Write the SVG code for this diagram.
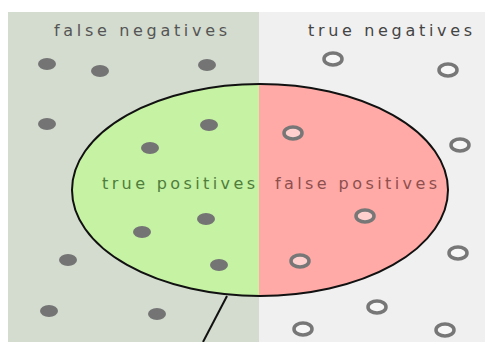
<svg xmlns="http://www.w3.org/2000/svg" width="487" height="342" viewBox="0 0 487 342">
  <style>
    .lbl { font-family: "DejaVu Sans", "Liberation Sans", sans-serif; font-size: 16px; }
    .dot { fill: #747474; }
    .ring { fill: #ffffff; fill-opacity: 0.45; stroke: #777777; stroke-width: 3.5; }
  </style>
  <defs>
    <clipPath id="leftHalf"><rect x="0" y="0" width="259" height="342"/></clipPath>
    <clipPath id="rightHalf"><rect x="259" y="0" width="228" height="342"/></clipPath>
  </defs>
  <rect x="0" y="0" width="487" height="342" fill="#ffffff"/>
  <g id="false-negatives-panel">
    <rect x="8" y="12" width="251" height="330" fill="#d3dccf"/>
  </g>
  <g id="true-negatives-panel">
    <rect x="259" y="12" width="226" height="330" fill="#f0f0f0"/>
  </g>
  <g id="selected-elements">
    <ellipse cx="260" cy="190" rx="188" ry="106" fill="#c5f2a3" clip-path="url(#leftHalf)"/>
    <ellipse cx="260" cy="190" rx="188" ry="106" fill="#ffaaa6" clip-path="url(#rightHalf)"/>
    <ellipse cx="260" cy="190" rx="188" ry="106" fill="none" stroke="#111111" stroke-width="2"/>
  </g>
  <g id="connectors">
    <line x1="227" y1="296" x2="203" y2="342" stroke="#111111" stroke-width="2"/>
  </g>
  <g id="labels">
    <text class="lbl" x="54" y="36" textLength="173" lengthAdjust="spacing" fill="#555555">false negatives</text>
    <text class="lbl" x="308" y="36" textLength="164" lengthAdjust="spacing" fill="#444444">true negatives</text>
    <text class="lbl" x="102" y="189" textLength="153" lengthAdjust="spacing" fill="#4f7d3c">true positives</text>
    <text class="lbl" x="275" y="189" textLength="162" lengthAdjust="spacing" fill="#8e4f4f">false positives</text>
  </g>
  <g id="relevant-elements">
    <ellipse class="dot" cx="47" cy="64" rx="9" ry="6"/>
    <ellipse class="dot" cx="100" cy="71" rx="9" ry="6"/>
    <ellipse class="dot" cx="207" cy="65" rx="9" ry="6"/>
    <ellipse class="dot" cx="47" cy="124" rx="9" ry="6"/>
    <ellipse class="dot" cx="209" cy="125" rx="9" ry="6"/>
    <ellipse class="dot" cx="150" cy="148" rx="9" ry="6"/>
    <ellipse class="dot" cx="206" cy="219" rx="9" ry="6"/>
    <ellipse class="dot" cx="142" cy="232" rx="9" ry="6"/>
    <ellipse class="dot" cx="68" cy="260" rx="9" ry="6"/>
    <ellipse class="dot" cx="219" cy="265" rx="9" ry="6"/>
    <ellipse class="dot" cx="49" cy="311" rx="9" ry="6"/>
    <ellipse class="dot" cx="157" cy="314" rx="9" ry="6"/>
  </g>
  <g id="irrelevant-elements">
    <ellipse class="ring" cx="333" cy="59" rx="9" ry="6"/>
    <ellipse class="ring" cx="448" cy="70" rx="9" ry="6"/>
    <ellipse class="ring" cx="293" cy="133" rx="9" ry="6"/>
    <ellipse class="ring" cx="460" cy="145" rx="9" ry="6"/>
    <ellipse class="ring" cx="365" cy="216" rx="9" ry="6"/>
    <ellipse class="ring" cx="300" cy="261" rx="9" ry="6"/>
    <ellipse class="ring" cx="458" cy="253" rx="9" ry="6"/>
    <ellipse class="ring" cx="377" cy="307" rx="9" ry="6"/>
    <ellipse class="ring" cx="303" cy="329" rx="9" ry="6"/>
    <ellipse class="ring" cx="445" cy="330" rx="9" ry="6"/>
  </g>
</svg>
